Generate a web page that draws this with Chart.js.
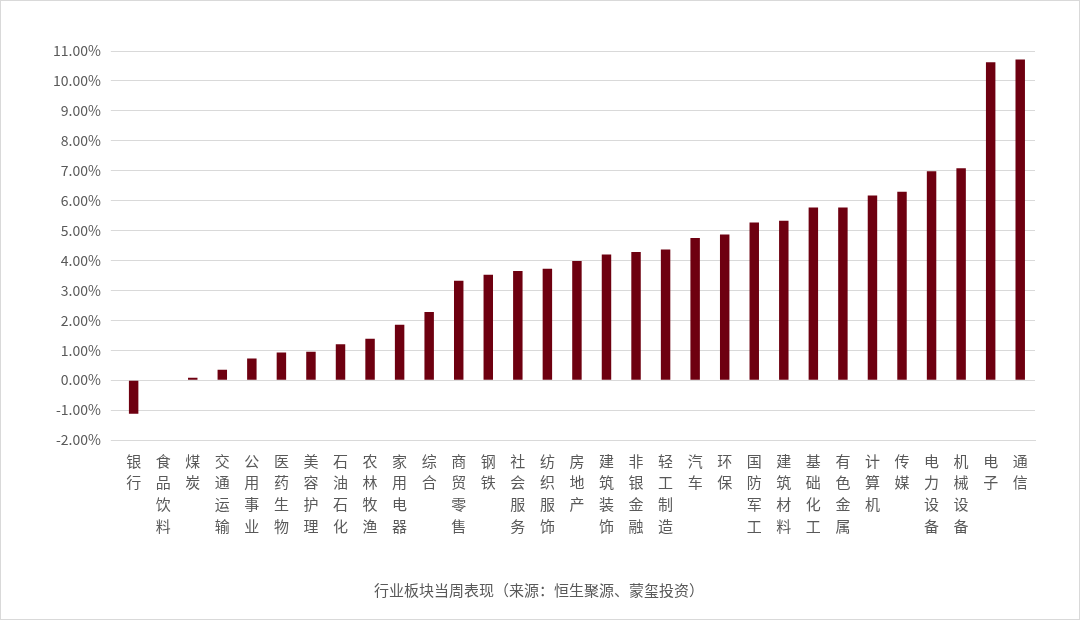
<!DOCTYPE html>
<html><head><meta charset="utf-8">
<script src="https://cdn.jsdelivr.net/npm/chart.js@4"></script>
<style>html,body{margin:0;padding:0;background:#fff}#w{width:1080px;height:620px;box-sizing:border-box;border:1px solid #d9d9d9}</style>
</head><body><div id="w"><canvas id="c"></canvas></div>
<script>
const categories=["银行","食品饮料","煤炭","交通运输","公用事业","医药生物","美容护理","石油石化","农林牧渔","家用电器","综合","商贸零售","钢铁","社会服务","纺织服饰","房地产","建筑装饰","非银金融","轻工制造","汽车","环保","国防军工","建筑材料","基础化工","有色金属","计算机","传媒","电力设备","机械设备","电子","通信"];
const values=[-1.12,0.01,0.08,0.35,0.72,0.92,0.95,1.2,1.38,1.85,2.28,3.32,3.52,3.65,3.72,3.98,4.2,4.28,4.37,4.75,4.87,5.27,5.33,5.77,5.77,6.17,6.3,6.98,7.08,10.62,10.72];
const titleText="行业板块当周表现（来源：恒生聚源、蒙玺投资）";
const F="'Noto Sans CJK SC','Noto Sans',sans-serif";
new Chart(document.getElementById('c'),{type:'bar',
data:{labels:categories.map(s=>s.split('')),datasets:[{data:values,backgroundColor:'#6e0010',barPercentage:0.32,categoryPercentage:1}]},
options:{responsive:true,maintainAspectRatio:false,animation:false,
layout:{padding:{left:42,right:44,top:50,bottom:20}},
plugins:{legend:{display:false},tooltip:{enabled:false},
title:{display:true,text:titleText,position:'bottom',color:'#595959',font:{family:F,size:15,weight:'normal'},padding:{top:42,bottom:0}}},
scales:{x:{grid:{display:false},border:{color:'#d9d9d9'},ticks:{color:'#595959',font:{family:F,size:15,lineHeight:1.45},maxRotation:0,autoSkip:false,padding:2}},
y:{min:-2,max:11,ticks:{stepSize:1,color:'#595959',font:{family:F,size:14},padding:10,callback:v=>v.toFixed(2)+'%'},grid:{color:'#d9d9d9'},border:{display:false}}}}});
</script></body></html>
